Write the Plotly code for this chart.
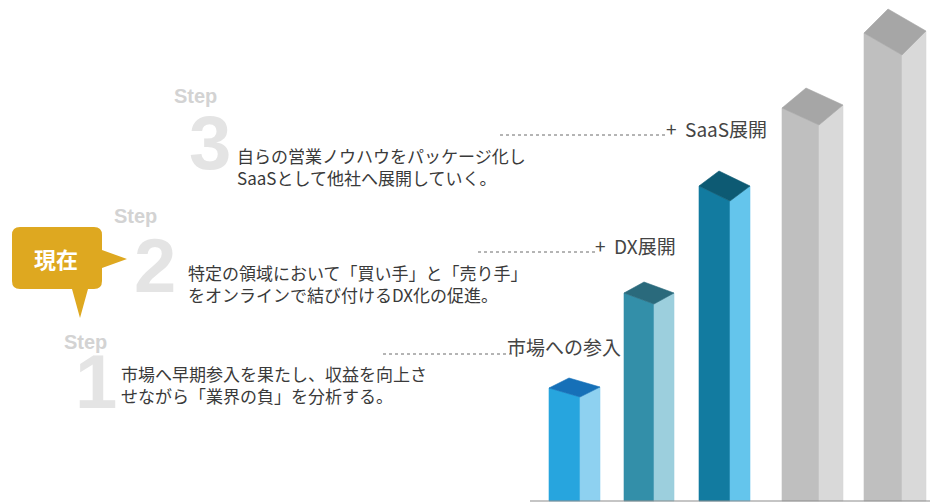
import plotly.graph_objects as go

W, H = 930, 502

# ---- data -------------------------------------------------------------
bar_names = ["市場への参入", "DX展開", "SaaS展開", "拡大", "拡大"]
bar_heights = [113, 208, 315, 393, 468]          # height of the box's left top corner

# ---- bar geometry / style ----------------------------------------------
bar_left = [549, 624, 699, 782, 864]
front_w = [31, 30, 31, 37, 38]
side_w = [20, 20, 20, 24, 24]
top_drop = [9, 11, 15, 17, 22]
top_rise = [10, 11, 15, 20, 24]
front_col = ["#27a5de", "#338fa9", "#127ba0", "#bfbfbf", "#bfbfbf"]
side_col = ["#8ed1f0", "#9ccfdd", "#64c5ec", "#d9d9d9", "#d9d9d9"]
top_col = ["#1670b8", "#2a6a7c", "#0d5a73", "#a6a6a6", "#a6a6a6"]

BASE = 1  # baseline in axis units


def Y(py):
    """screen row -> axis y"""
    return H - py


fig = go.Figure()


def poly(xs, ys, color):
    fig.add_trace(go.Scatter(
        x=xs + [xs[0]], y=ys + [ys[0]], mode="lines", fill="toself",
        fillcolor=color, line=dict(width=0.6, color=color),
        hoverinfo="skip", showlegend=False))


for i, h in enumerate(bar_heights):
    lx = bar_left[i]
    fx = lx + front_w[i]
    rx = fx + side_w[i]
    top_l = BASE + h
    top_f = top_l - top_drop[i]
    top_r = top_f + top_rise[i]
    top_b = top_l + top_rise[i]
    # front face
    poly([lx, fx, fx, lx], [top_l, top_f, BASE, BASE], front_col[i])
    # side face
    poly([fx, rx, rx, fx], [top_f, top_r, BASE, BASE], side_col[i])
    # top face
    poly([lx, fx, rx, lx + side_w[i]], [top_l, top_f, top_r, top_b], top_col[i])

shapes = []
# baseline
shapes.append(dict(type="line", xref="x", yref="y", x0=530, x1=930, y0=BASE, y1=BASE,
                   line=dict(color="#8c8c8c", width=1.2)))

# dotted leaders
for x0, x1, py in [(500, 668, 135), (478, 596, 252), (383, 514, 354)]:
    shapes.append(dict(type="line", xref="x", yref="y", x0=x0, x1=x1, y0=Y(py), y1=Y(py),
                       line=dict(color="#6a6a6a", width=1, dash="dot")))

# "現在" speech bubble
pts = [("M", 20, 227), ("L", 94, 227), ("Q", 102, 227, 102, 235), ("L", 102, 250),
       ("L", 127, 259), ("L", 102, 268), ("L", 102, 281), ("Q", 102, 289, 94, 289),
       ("L", 88, 289), ("L", 80, 318), ("L", 72, 289), ("L", 20, 289),
       ("Q", 12, 289, 12, 281), ("L", 12, 235), ("Q", 12, 227, 20, 227)]
path = ""
for p in pts:
    cmd, coords = p[0], p[1:]
    path += cmd + " " + " ".join(
        f"{coords[k]},{Y(coords[k + 1])}" for k in range(0, len(coords), 2)) + " "
path += "Z"
shapes.append(dict(type="path", xref="x", yref="y", path=path,
                   fillcolor="#dea820", line=dict(width=0)))

ann = []
JP = "Noto Sans CJK JP"


def text(x, py, s, size, color, family=JP, xanchor="left", bold=False):
    ann.append(dict(x=x, y=Y(py), xref="x", yref="y", text=f"<b>{s}</b>" if bold else s,
                    showarrow=False, xanchor=xanchor, yanchor="middle", align="left",
                    font=dict(size=size, color=color, family=family)))


# step labels and big numerals
for cx, py, s in [(195, 96, "Step"), (135, 216, "Step"), (85, 342, "Step")]:
    text(cx, py, s, 20, "#d3d3d3", family="Liberation Sans", xanchor="center", bold=True)
for cx, py, s in [(210, 142, "3"), (155, 265, "2"), (96, 381, "1")]:
    text(cx, py, s, 76, "#e4e4e4", family="Liberation Sans", xanchor="center", bold=True)

# step descriptions
text(235, 166, "自らの営業ノウハウをパッケージ化し<br>SaaSとして他社へ展開していく。", 17, "#3a3a3a")
text(186, 283, "特定の領域において「買い手」と「売り手」<br>をオンラインで結び付けるDX化の促進。", 17, "#3a3a3a")
text(119, 384, "市場へ早期参入を果たし、収益を向上さ<br>せながら「業界の負」を分析する。", 17, "#3a3a3a")

# bar captions
text(664, 128, "+\u00a0 " + bar_names[2], 19, "#444444")
text(593, 245, "+\u00a0 " + bar_names[1], 19, "#444444")
text(505, 346, bar_names[0], 19, "#444444")

# bubble text
text(56, 258, "現在", 22, "#ffffff", xanchor="center", bold=True)

fig.update_layout(
    width=W, height=H, margin=dict(l=0, r=0, t=0, b=0),
    paper_bgcolor="white", plot_bgcolor="white",
    xaxis=dict(range=[0, W], visible=False, fixedrange=True),
    yaxis=dict(range=[0, H], visible=False, fixedrange=True),
    shapes=shapes, annotations=ann, showlegend=False,
)

fig.write_html("out.html")
